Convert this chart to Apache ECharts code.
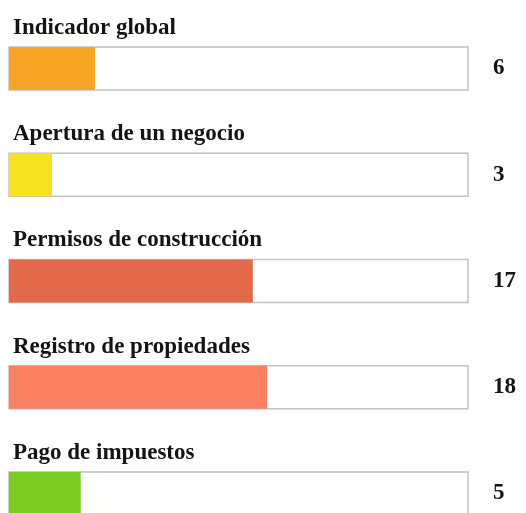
<!DOCTYPE html>
<html>
<head>
<meta charset="utf-8">
<script src="https://cdn.jsdelivr.net/npm/echarts@6/dist/echarts.min.js"></script>
<style>html,body{margin:0;padding:0;background:#fff;}#c{width:526px;height:513px;}</style>
</head>
<body>
<div id="c"></div>
<script>
const categories = ['Indicador global', 'Apertura de un negocio', 'Permisos de construcción', 'Registro de propiedades', 'Pago de impuestos'];
const values = [6, 3, 17, 18, 5];
const maxValue = 32;
const palette = ['#F5A425', '#F6E21F', '#E4694B', '#F98063', '#7BCB23'];

const chart = echarts.init(document.getElementById('c'), null, {renderer: 'canvas'});
const font = "'Liberation Serif', 'Times New Roman', serif";
chart.setOption({
  animation: false,
  grid: {left: 9, width: 459, top: 15.4, height: 531.25, outerBoundsMode: 'none', containLabel: false},
  xAxis: {type: 'value', min: 0, max: maxValue, show: false},
  yAxis: [
    {type: 'category', data: categories, inverse: true, show: false},
    {type: 'category', data: values.map(String), inverse: true, position: 'right',
     axisLine: {show: false}, axisTick: {show: false},
     axisLabel: {margin: 25, align: 'left', padding: [6, 0, 0, 0], fontFamily: font, fontWeight: 'bold', fontSize: 23, color: '#141414'}}
  ],
  series: [{
    type: 'bar',
    yAxisIndex: 0,
    barWidth: 43,
    data: values.map((v, i) => ({value: v, itemStyle: {color: palette[i]}})),
    showBackground: true,
    backgroundStyle: {color: '#ffffff', borderColor: '#c2c2c2', borderWidth: 1.5},
    label: {
      show: true,
      position: [4, -19],
      verticalAlign: 'middle',
      align: 'left',
      formatter: '{b}',
      fontFamily: font,
      fontWeight: 'bold',
      fontSize: 23,
      color: '#141414'
    }
  }]
});
</script>
</body>
</html>
